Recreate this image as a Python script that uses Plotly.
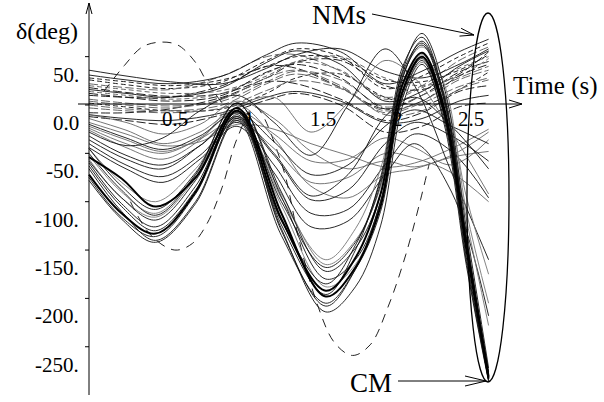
import plotly.graph_objects as go

# ---------------- time grids (s) ----------------
t_cm = [0, 0.22, 0.45, 0.72, 1.0, 1.3, 1.6, 1.8, 1.97, 2.12, 2.25, 2.4, 2.55, 2.7]
t_mid = [0, 0.25, 0.5, 0.75, 1.0, 1.25, 1.5, 1.75, 2.0, 2.2, 2.45, 2.7]
t_nm = [0, 0.25, 0.55, 0.9, 1.2, 1.4, 1.7, 2.0, 2.25, 2.5, 2.7]

# ---------------- critical machines, rotor angle (deg) ----------------
cm_a = [-54, -76, -105, -75, -3, -112, -198, -168, -105, 15, 50, -8, -150, -283]
cm_b = [-72, -112, -133, -90, -6, -118, -192, -158, -92, 22, 54, -3, -145, -281]
cm_c = [-60, -102, -126, -84, -8, -130, -208, -170, -100, 12, 48, -12, -158, -284]
cm_d = [-66, -110, -140, -100, -14, -128, -214, -188, -125, 0, 42, -16, -162, -285]
cm_e = [-50, -88, -114, -72, 2, -95, -180, -160, -100, 28, 66, 10, -136, -278]
cm_f = [-78, -118, -142, -102, -16, -135, -205, -170, -110, 8, 46, -20, -166, -286]
cm_g = [-58, -96, -119, -78, -6, -100, -168, -142, -82, 36, 74, 18, -128, -272]
cm_h = [-75, -116, -136, -92, -10, -124, -196, -150, -75, 40, 70, 8, -140, -280]
cm_i = [-45, -84, -108, -70, 2, -90, -172, -148, -92, 30, 62, 4, -142, -276]
cm_j = [-63, -105, -130, -88, -12, -120, -185, -145, -78, 34, 64, 6, -138, -279]
cm_k = [-45, -80, -100, -66, -12, -92, -165, -140, -85, 20, 52, 12, -95, -175]
cm_l = [-56, -96, -116, -76, -16, -104, -188, -165, -100, 8, 44, 2, -118, -228]
cm_m = [-52, -90, -112, -72, -8, -96, -160, -128, -66, 32, 60, 22, -110, -205]

# ---------------- intermediate machines (deg) ----------------
mid_1 = [-20, -34, -46, -32, -8, -38, -72, -62, -22, -5, -22, -40]
mid_2 = [-32, -52, -62, -42, -14, -52, -98, -88, -40, -18, -32, -58]
mid_3 = [-14, -26, -40, -28, -6, -30, -58, -56, -34, -44, -62, -36]
mid_4 = [-40, -62, -74, -52, -18, -62, -112, -108, -62, -30, -48, -96]
mid_5 = [-26, -44, -56, -36, 0, -34, -84, -96, -72, -66, -54, -48]
mid_6 = [-44, -66, -80, -56, -22, -70, -126, -120, -72, -40, -90, -218]
mid_7 = [-10, -18, -30, -20, 4, -14, -48, -66, -58, -64, -52, -28]
mid_8 = [-36, -56, -66, -42, -12, -50, -94, -72, -12, 8, -22, -66]
mid_9 = [-24, -40, -50, -35, -16, -45, -80, -75, -50, -55, -70, -100]
mid_10 = [-18, -30, -42, -38, -20, -25, -40, -52, -64, -60, -45, -25]
mid_11 = [-28, -42, -34, -6, 10, -18, -52, 0, 58, 20, -70, -160]
mid_12 = [-22, -36, -48, -34, -2, 8, -28, 2, 46, 28, -28, -92]

# ---------------- non-critical machines (deg) ----------------
nm_1 = [31, 26, 22, 30, 52, 64, 55, 22, 35, 55, 68]
nm_2 = [26, 21, 17, 24, 46, 58, 50, 17, 30, 50, 64]
nm_3 = [22, 18, 16, 30, 50, 52, 35, 8, 20, 46, 60]
nm_4 = [18, 13, 9, 12, 28, 44, 46, 20, 16, 32, 55]
nm_5 = [14, 10, 6, 12, 33, 44, 36, 6, 18, 38, 50]
nm_6 = [10, 8, 8, 20, 40, 38, 18, -4, 10, 34, 45]
nm_7 = [6, 2, -1, 4, 24, 35, 26, -2, 10, 28, 40]
nm_8 = [2, -2, -6, -4, 12, 28, 32, 8, 0, 16, 34]
nm_9 = [-3, -6, -8, -3, 15, 25, 17, -8, 2, 19, 28]
nm_10 = [-8, -8, -4, 8, 24, 22, 6, -16, -8, 14, 20]
nm_11 = [36, 30, 24, 22, 38, 52, 58, 35, 28, 42, 58]
nm_12 = [20, 16, 12, 15, 30, 45, 50, 28, 20, 30, 48]
nm_13 = [12, 8, 4, 10, 34, 42, 28, -4, 4, 30, 42]
nm_14 = [4, 0, -3, 6, 28, 36, 20, -10, -6, 16, 26]
nm_15 = [-10, -14, -16, -8, 8, 14, 4, -18, -14, 4, 10]
nm_16 = [16, 12, 8, 18, 44, 56, 42, 4, 14, 40, 56]
nm_17 = [28, 24, 20, 26, 40, 50, 48, 26, 24, 36, 52]
nm_18 = [0, -4, -6, 0, 22, 32, 18, -6, 4, 26, 36]
nm_19 = [-12, -16, -20, -10, 5, 12, 0, -28, -22, -2, 2]

# ---------------- the two long-dashed swings ----------------
dome_t = [0.1, 0.24, 0.36, 0.48, 0.6, 0.72, 0.8, 0.9]
dome_v = [14, 41, 60, 65, 62, 44, 23, 2]
swing_t = [0.28, 0.42, 0.58, 0.7, 0.8, 0.9, 1.0, 1.12, 1.3, 1.42, 1.54,
           1.66, 1.78, 1.9, 2.02, 2.14, 2.24, 2.3]
swing_v = [-100, -135, -150, -143, -122, -85, -35, -2, -60, -140, -205,
           -246, -259, -248, -209, -155, -98, -60]

# ---------------- axis ticks ----------------
y_ticks = [50, 0, -50, -100, -150, -200, -250]
y_tick_text = ["50.", "0.0", "-50.", "-100.", "-150.", "-200.", "-250."]
x_ticks = [0.5, 1, 1.5, 2, 2.5]
x_tick_text = ["0.5", "1", "1.5", "2", "2.5"]

# ---------------- page geometry ----------------
W, H = 604, 402
X0_PX, T_SCALE = 89, 148.0     # pixel column of t = 0, pixels per second
Y0_PX, V_SCALE = 105, 0.967    # pixel row of delta = 0, pixels per degree
FONT = "Liberation Serif, Times New Roman, serif"


def P(px, py):
    """pixel position -> paper coordinates"""
    return px / W, 1 - py / H


def chevron(tail, tip, length, half):
    dx, dy = tip[0] - tail[0], tip[1] - tail[1]
    n = (dx * dx + dy * dy) ** 0.5
    ux, uy = dx / n, dy / n
    bx, by = tip[0] - ux * length, tip[1] - uy * length
    a1 = P(bx - uy * half, by + ux * half)
    a2 = P(bx + uy * half, by - ux * half)
    t = P(*tip)
    return f"M{a1[0]},{a1[1]} L{t[0]},{t[1]} L{a2[0]},{a2[1]}"


fig = go.Figure()


def add(t, v, color, width, dash="solid"):
    fig.add_trace(go.Scatter(
        x=t, y=v, mode="lines", hoverinfo="skip",
        line=dict(color=color, width=width, dash=dash, shape="spline", smoothing=1.0),
    ))


# upper band (dashed), drawn first
for i, v in enumerate([nm_2, nm_3, nm_4, nm_5, nm_6, nm_7, nm_8, nm_9,
                       nm_10, nm_12, nm_13, nm_14, nm_17, nm_18, nm_19]):
    add(t_nm, v, "#222" if i % 2 == 0 else "#666", 1.0,
        "9px,3px" if i % 3 else "5px,3px")

for v in [nm_1, nm_11, nm_15, nm_16]:
    add(t_nm, v, "#111", 0.9)

# long-dashed swings
add(dome_t, dome_v, "#222", 1.0, "9px,7px")
add(swing_t, swing_v, "#222", 1.0, "9px,7px")

# intermediate machines
for v in [mid_3, mid_5, mid_7, mid_9, mid_10, mid_12]:
    add(t_mid, v, "#666", 0.9)
for v in [mid_1, mid_2, mid_4, mid_6, mid_8, mid_11]:
    add(t_mid, v, "#111", 0.9)

# critical machines
for v in [cm_k, cm_l, cm_m]:
    add(t_cm, v, "#777", 0.9)
for v in [cm_c, cm_d, cm_e, cm_f, cm_g, cm_h, cm_i, cm_j]:
    add(t_cm, v, "#111", 0.9)
for v in [cm_a, cm_b]:
    add(t_cm, v, "#000", 2.0)

shapes = []


def seg(p, q, width=1):
    a, b = P(*p), P(*q)
    shapes.append(dict(type="line", xref="paper", yref="paper",
                       x0=a[0], y0=a[1], x1=b[0], y1=b[1],
                       line=dict(color="black", width=width)))


def head(tail, tip, length, half, width=1):
    shapes.append(dict(type="path", xref="paper", yref="paper",
                       path=chevron(tail, tip, length, half),
                       line=dict(color="black", width=width)))


# delta axis with arrow and ticks
seg((X0_PX, 3), (X0_PX, 395))
head((X0_PX, 50), (X0_PX, 3), 11, 3)
for v in y_ticks:
    py = Y0_PX - V_SCALE * v
    seg((X0_PX - 4, py), (X0_PX, py))

# time axis with arrow
seg((78, Y0_PX - 1), (522, Y0_PX - 1))
head((480, Y0_PX - 1), (522, Y0_PX - 1), 13, 4)

# ellipse round the end of the swings
e0, e1 = P(467, 382), P(509, 13)
shapes.append(dict(type="circle", xref="paper", yref="paper",
                   x0=e0[0], y0=e0[1], x1=e1[0], y1=e1[1],
                   line=dict(color="black", width=1.3)))

# NMs and CM pointers
seg((372, 14), (474, 35))
head((372, 14), (474, 35), 14, 4)
seg((398, 381), (486, 381))
head((398, 381), (486, 381), 21, 5)

annotations = []


def text(s, px, py, size, xanchor="center"):
    x, y = P(px, py)
    annotations.append(dict(text=s, x=x, y=y, xref="paper", yref="paper",
                            xanchor=xanchor, yanchor="middle", showarrow=False,
                            font=dict(family=FONT, size=size, color="black")))


for v, s in zip(y_ticks, y_tick_text):
    text(s, 81, Y0_PX - V_SCALE * v + 18, 21, xanchor="right")
for t, s in zip(x_ticks, x_tick_text):
    text(s, X0_PX + T_SCALE * t + 12, Y0_PX + 14, 21)

text("δ(deg)", 47, 31, 24)
text("Time (s)", 555, 86, 25)
text("NMs", 339, 15, 27)
text("CM", 371, 383, 27)

fig.update_layout(
    width=W, height=H, autosize=False,
    margin=dict(l=0, r=0, t=0, b=0, pad=0),
    paper_bgcolor="white", plot_bgcolor="white",
    showlegend=False,
    xaxis=dict(visible=False, range=[(0 - X0_PX) / T_SCALE, (W - X0_PX) / T_SCALE]),
    yaxis=dict(visible=False, range=[(Y0_PX - H) / V_SCALE, Y0_PX / V_SCALE]),
    shapes=shapes, annotations=annotations,
)

fig.write_html("out.html")
